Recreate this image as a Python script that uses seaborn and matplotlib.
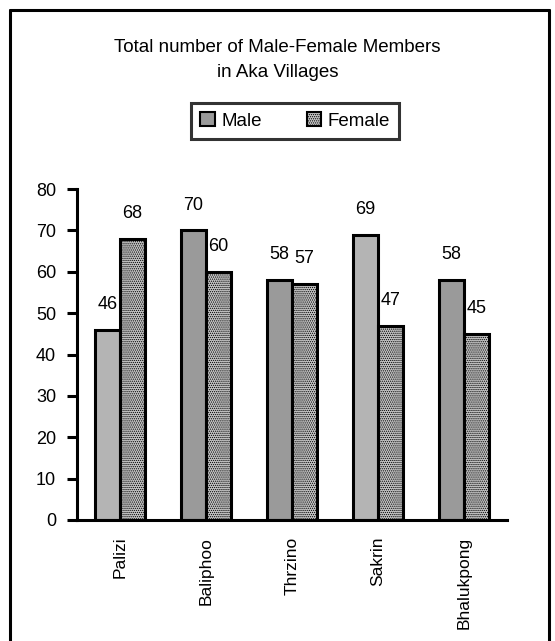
import matplotlib
matplotlib.use("Agg")
import matplotlib.pyplot as plt
import seaborn as sns
import pandas as pd
from matplotlib.lines import Line2D
from matplotlib.patches import Patch

villages = ["Palizi", "Baliphoo", "Thrzino", "Sakrin", "Bhalukpong"]
male = [46, 70, 58, 69, 58]
female = [68, 60, 57, 47, 45]
series = ["Male", "Female"]
title_text = "Total number of Male-Female Members\nin Aka Villages"
yticks = [0, 10, 20, 30, 40, 50, 60, 70, 80]

df = pd.DataFrame({
    "Village": villages * 2,
    "Members": male + female,
    "Sex": ["Male"] * len(villages) + ["Female"] * len(villages),
})

sns.set_theme(style="white")
plt.rcParams["font.family"] = ["Liberation Sans", "DejaVu Sans"]
plt.rcParams["text.color"] = "black"
plt.rcParams["xtick.color"] = "black"
plt.rcParams["ytick.color"] = "black"
plt.rcParams["xtick.labelcolor"] = "black"
plt.rcParams["ytick.labelcolor"] = "black"
plt.rcParams["hatch.color"] = "#666666"
plt.rcParams["hatch.linewidth"] = 0.6

W, H = 555, 641
fig = plt.figure(figsize=(W / 100, H / 100), dpi=100)
ax = fig.add_axes([77 / W, 1 - 520 / H, (507 - 77) / W, (520 - 189) / H])

sns.barplot(data=df, x="Village", y="Members", hue="Sex", order=villages,
            hue_order=series, palette=["#9a9a9a", "#b8b8b8"], width=0.58,
            edgecolor="black", linewidth=2.2, ax=ax, legend=False)

male_colors = ["#b4b4b4", "#9a9a9a", "#9a9a9a", "#b4b4b4", "#9a9a9a"]
for i, p in enumerate(ax.containers[0]):
    p.set_facecolor(male_colors[i])
for p in ax.containers[1]:
    p.set_facecolor("#c4c4c4")
    p.set_hatch("........")

for c in ax.containers:
    ax.bar_label(c, padding=12, fontsize=13, color="black")

ax.set_ylim(0, 80)
ax.set_xlim(-0.5, len(villages) - 0.5)
ax.set_yticks(yticks)
ax.set_yticklabels([str(v) for v in yticks], fontsize=13)
ax.set_xticks(range(len(villages)))
ax.set_xticklabels(villages, rotation=90, fontsize=12.5)
ax.set_xticks([i - 0.5 for i in range(len(villages) + 1)], minor=True)
ax.tick_params(axis="x", which="major", length=0, pad=12)
ax.tick_params(axis="x", which="minor", length=7, width=2.2, direction="out", color="black")
ax.tick_params(axis="y", length=7, width=2.2, direction="out", color="black", pad=8, left=True)
ax.set_xlabel("")
ax.set_ylabel("")
for s in ["top", "right"]:
    ax.spines[s].set_visible(False)
for s in ["left", "bottom"]:
    ax.spines[s].set_linewidth(2.2)
    ax.spines[s].set_color("black")

fig.text(0.5, 1 - 60 / H, title_text, ha="center", va="center", fontsize=13.5,
         linespacing=1.55, color="black")

handles = [Patch(facecolor="#9a9a9a", edgecolor="black", linewidth=1.5),
           Patch(facecolor="#c4c4c4", edgecolor="black", linewidth=1.5, hatch="........")]
leg = fig.legend(handles, series, loc="center", ncol=2,
                 bbox_to_anchor=(295 / W, 1 - 121 / H), fontsize=13.5,
                 frameon=True, fancybox=False, handlelength=0.75, handleheight=0.75,
                 columnspacing=2.4, handletextpad=0.35, borderpad=0.5,
                 borderaxespad=0)
leg.get_frame().set_edgecolor("black")
leg.get_frame().set_linewidth(2.2)
for t in leg.get_texts():
    t.set_color("black")

# outer chart frame
for (x0, y0, x1, y1) in [(10, 10, 10, H + 5), (10, 10, 549, 10), (549, 10, 549, H + 5)]:
    fig.add_artist(Line2D([x0 / W, x1 / W], [1 - y0 / H, 1 - y1 / H],
                          color="black", linewidth=2.2, transform=fig.transFigure))

fig.savefig("out.png", dpi=100)
